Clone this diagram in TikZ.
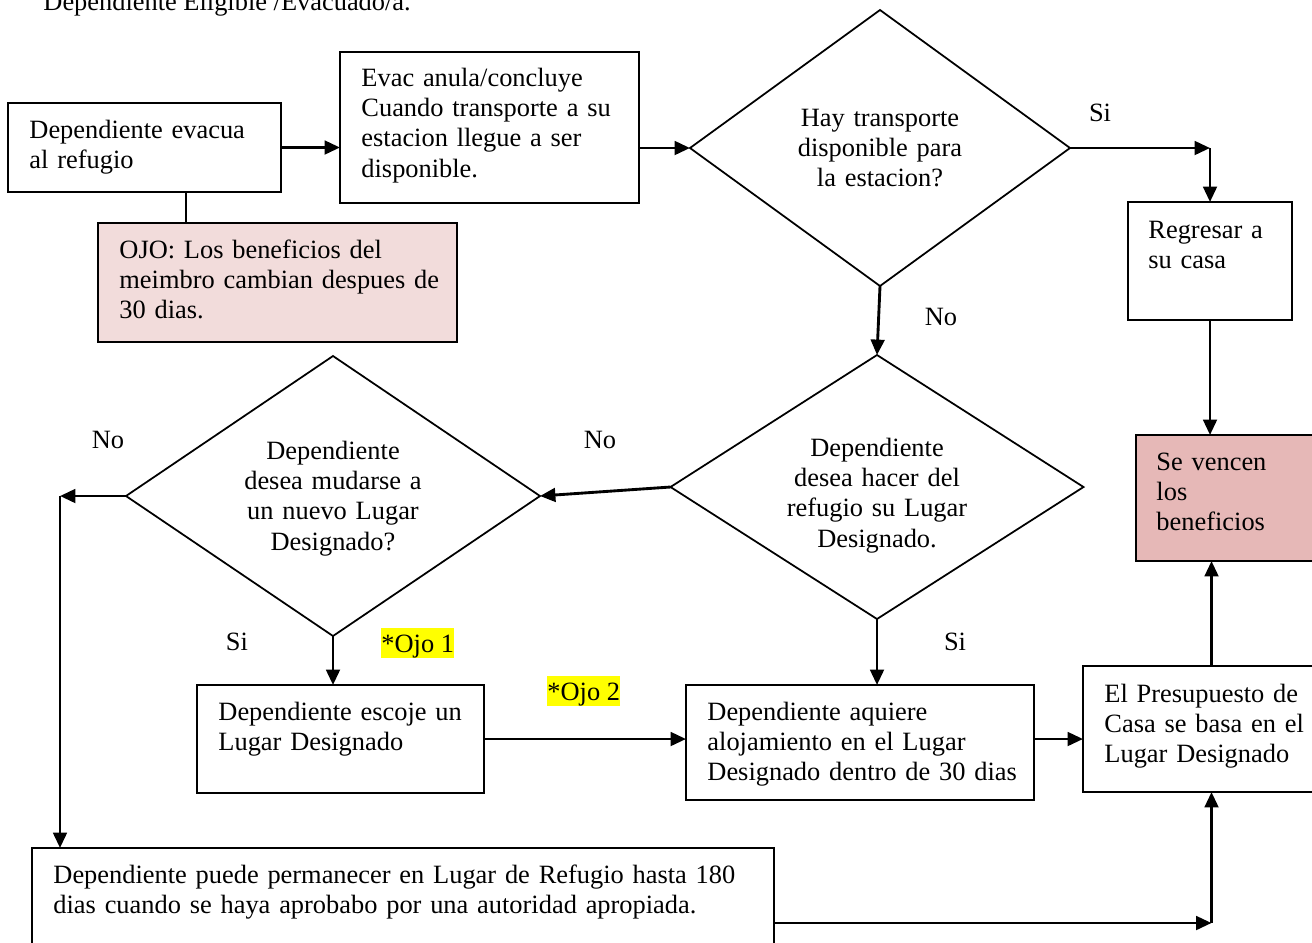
\documentclass[tikz,border=0pt]{standalone}
\usepackage{fontspec}
\setmainfont{Liberation Serif}
\usetikzlibrary{shapes.geometric,arrows.meta,calc}
\definecolor{ojofill}{HTML}{F2DCDB}
\definecolor{svfill}{HTML}{E6B8B7}
\definecolor{hilite}{HTML}{FFFF00}
\newcommand\pxl{0.4545pt}
\newcommand\mkbox[6][]{%
  \node[box,#1,minimum width={(#5-#3)*\pxl},minimum height={(#6-#4)*\pxl}] (#2) at ({(#3+#5)/2},{(#4+#6)/2}) {};}
\begin{document}
\begin{tikzpicture}[x=0.4545pt,y=-0.4545pt,
  font=\fontsize{12pt}{13.8pt}\selectfont,
  box/.style={draw,line width=0.9pt,inner sep=0pt,outer sep=0pt},
  dia/.style={draw,diamond,line width=0.8pt,inner sep=0pt,outer sep=0pt},
  txt/.style={anchor=base west,inner sep=0pt,align=left,text width={#1*\pxl}},
  ctxt/.style={anchor=base,inner sep=0pt,align=center,text width={#1*\pxl}},
  lbl/.style={anchor=base,inner sep=0pt},
  hl/.style={fill=hilite,anchor=base west,inner sep=0pt,text height=10.7pt,text depth=2.7pt},
  arr/.style={-{Triangle[length=7pt,width=6.2pt]},line width=1.3pt},
  plain/.style={line width=0.9pt}]
\useasboundingbox (0,0) rectangle (1312,942);

% title (cut off at the top edge, as in the original)
\node[anchor=base west,inner sep=0pt] (title) at (43,10) {Dependiente Eligible /Evacuado/a.};

% boxes
\mkbox{b1}{8}{103}{281}{192}
\mkbox{b2}{340}{52}{639}{203}
\mkbox[fill=ojofill]{ojo}{98}{223}{457}{342}
\mkbox{reg}{1128}{202}{1292}{320}
\mkbox[fill=svfill]{sv}{1136}{435}{1340}{561}
\mkbox{esc}{197}{685}{484}{793}
\mkbox{aq}{686}{685}{1034}{800}
\mkbox{pr}{1083}{666}{1340}{792}
\mkbox{bb}{32}{848}{774}{998}

% diamonds
\node[dia,minimum width={380*\pxl},minimum height={276*\pxl}] (d1) at (880,148) {};
\node[dia,minimum width={413*\pxl},minimum height={264*\pxl}] (d2) at (877,487) {};
\node[dia,minimum width={414*\pxl},minimum height={280*\pxl}] (d3) at (333,496) {};

% texts
\node[txt=240] (t1) at (29,138) {Dependiente evacua\\al refugio};
\node[txt=270] (t2) at (361,86) {Evac anula/concluye\\Cuando transporte a su\\estacion llegue a ser\\disponible.};
\node[txt=330] (tojo) at (119,258) {OJO: Los beneficios del\\meimbro cambian despues de\\30 dias.};
\node[ctxt=260] (td1) at (880,126) {Hay transporte\\disponible para\\la estacion?};
\node[txt=150] (treg) at (1148,238) {Regresar a\\su casa};
\node[txt=150] (tsv) at (1156,470) {Se vencen\\los\\beneficios};
\node[ctxt=260] (td2) at (877,456) {Dependiente\\desea hacer del\\refugio su Lugar\\Designado.};
\node[ctxt=260] (td3) at (333,459) {Dependiente\\desea mudarse a\\un nuevo Lugar\\Designado?};
\node[txt=260] (tesc) at (218,720) {Dependiente escoje un\\Lugar Designado};
\node[txt=320] (taq) at (707,720) {Dependiente aquiere\\alojamiento en el Lugar\\Designado dentro de 30 dias};
\node[txt=205] (tpr) at (1104,702) {El Presupuesto de\\Casa se basa en el\\Lugar Designado};
\node[txt=700] (tbb) at (53,883) {Dependiente puede permanecer en Lugar de Refugio hasta 180\\dias cuando se haya aprobabo por una autoridad apropiada.};

% labels
\node[lbl] (si1) at (1100,121) {Si};
\node[lbl] (no1) at (941,325) {No};
\node[lbl] (no2) at (600,448) {No};
\node[lbl] (no3) at (108,448) {No};
\node[lbl] (si2) at (237,650) {Si};
\node[lbl] (si3) at (955,650) {Si};
\node[hl] (ojo1) at (381,652) {*Ojo 1};
\node[hl] (ojo2) at (547,700) {*Ojo 2};

% connectors
\coordinate (ojox) at ($(b1.south west)+(178,0)$);
\draw[plain] (ojox) -- (ojox |- ojo.north);
\draw[arr] (b1.east) -- (b1.east -| b2.west);
\draw[arr] (b2.east |- d1.west) -- (d1.west);
\coordinate (c1) at (d1.east -| reg.north);
\draw[arr] (d1.east) -- (c1);
\draw[arr] (c1) -- (reg.north);
\draw[arr] (reg.south) -- (reg.south |- sv.north);
\draw[arr] (d1.south) -- (d2.north);
\draw[arr] (d2.west) -- (d3.east);
\coordinate (bbx) at ($(bb.north west)+(28,0)$);
\coordinate (c2) at (bbx |- d3.west);
\draw[arr] (d3.west) -- (c2);
\draw[arr] (c2) -- (bbx);
\draw[arr] (d3.south) -- (d3.south |- esc.north);
\draw[arr] (esc.east) -- (esc.east -| aq.west);
\draw[arr] (d2.south) -- (d2.south |- aq.north);
\draw[arr] (aq.east |- esc.east) -- (esc.east -| pr.west);
\draw[arr] (pr.north) -- (pr.north |- sv.south);
\coordinate (c3) at (bb.east -| pr.south);
\draw[arr] (bb.east) -- (c3);
\draw[arr] (c3) -- (pr.south);
\end{tikzpicture}
\end{document}
